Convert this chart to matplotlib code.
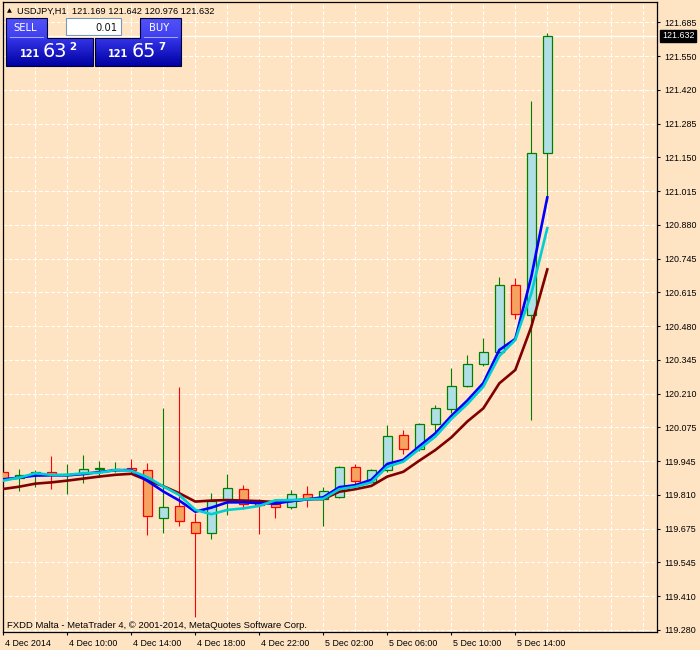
'''
USDJPY H1 candles with three moving averages, MT4 look
4 Dec 2014 06:00 .. 5 Dec 2014 16:00
'''

import numpy as np
import matplotlib
matplotlib.use('Agg')
import matplotlib.pyplot as plt
import matplotlib.transforms as mtransforms
from matplotlib.patches import Rectangle, Polygon
from matplotlib.colors import LinearSegmentedColormap
from matplotlib.ticker import MultipleLocator

# ---- data ----
opens = [119.904, 119.880, 119.892, 119.904, 119.895, 119.896, 119.916, 119.913, 119.920, 119.912,
         119.722, 119.771, 119.706, 119.663, 119.794, 119.837, 119.788, 119.779, 119.768, 119.817,
         119.798, 119.807, 119.924, 119.867, 119.913, 120.050, 119.995, 120.094, 120.153, 120.246,
         120.331, 120.379, 120.644, 120.527, 121.169]
highs = [119.942, 119.917, 119.913, 119.969, 119.937, 119.972, 119.949, 119.945, 119.957, 119.942,
         120.158, 120.243, 119.742, 119.821, 119.896, 119.853, 119.797, 119.794, 119.834, 119.850,
         119.847, 119.929, 119.937, 119.916, 120.091, 120.071, 120.100, 120.170, 120.317, 120.367,
         120.434, 120.677, 120.672, 121.375, 121.642]
lows = [119.881, 119.831, 119.847, 119.839, 119.817, 119.863, 119.887, 119.906, 119.900, 119.657,
        119.665, 119.693, 119.330, 119.639, 119.736, 119.758, 119.660, 119.724, 119.758, 119.768,
        119.691, 119.802, 119.856, 119.864, 119.906, 119.975, 119.988, 120.058, 120.137, 120.243,
        120.325, 120.375, 120.511, 120.111, 120.976]
closes = [119.883, 119.893, 119.904, 119.896, 119.897, 119.916, 119.920, 119.915, 119.912, 119.730,
          119.765, 119.710, 119.663, 119.792, 119.841, 119.779, 119.776, 119.768, 119.817, 119.797,
          119.830, 119.924, 119.868, 119.912, 120.046, 119.995, 120.094, 120.157, 120.246, 120.331,
          120.379, 120.644, 120.529, 121.167, 121.632]

ma_fast = [119.876, 119.883, 119.891, 119.892, 119.892, 119.897, 119.905, 119.912, 119.913, 119.870,
           119.828, 119.792, 119.748, 119.764, 119.785, 119.785, 119.782, 119.780, 119.790, 119.797,
           119.805, 119.845, 119.853, 119.874, 119.937, 119.953, 120.007, 120.058, 120.127, 120.188,
           120.257, 120.388, 120.432, 120.678, 120.992]
ma_mid = [119.871, 119.883, 119.900, 119.894, 119.894, 119.900, 119.902, 119.913, 119.910, 119.885,
          119.848, 119.814, 119.755, 119.738, 119.755, 119.761, 119.771, 119.793, 119.794, 119.797,
          119.799, 119.837, 119.847, 119.864, 119.926, 119.946, 119.996, 120.045, 120.115, 120.174,
          120.243, 120.364, 120.428, 120.612, 120.870]
ma_slow = [119.838, 119.847, 119.859, 119.864, 119.871, 119.879, 119.887, 119.894, 119.898, 119.872,
           119.849, 119.821, 119.788, 119.792, 119.794, 119.792, 119.790, 119.786, 119.790, 119.797,
           119.798, 119.827, 119.837, 119.850, 119.887, 119.906, 119.950, 119.992, 120.042, 120.105,
           120.157, 120.256, 120.309, 120.480, 120.707]

time_labels = ['4 Dec 2014', '4 Dec 10:00', '4 Dec 14:00', '4 Dec 18:00', '4 Dec 22:00',
               '5 Dec 02:00', '5 Dec 06:00', '5 Dec 10:00', '5 Dec 14:00']
price_labels = ['119.280', '119.410', '119.545', '119.675', '119.810', '119.945', '120.075',
                '120.210', '120.345', '120.480', '120.615', '120.745', '120.880', '121.015',
                '121.150', '121.285', '121.420', '121.550', '121.685']

symbol = 'USDJPY,H1'
bid = 121.632
ask = 121.657
lot = '0.01'
footer = 'FXDD Malta - MetaTrader 4, \u00a9 2001-2014, MetaQuotes Software Corp.'

# ---- style ----
BG = '#FFE4C4'
BULL_EDGE, BULL_FILL = '#008000', '#B0E0E6'
BEAR_EDGE, BEAR_FILL = '#FF0000', '#F4A460'
AX_FONT = ['Liberation Sans', 'DejaVu Sans']
plt.rcParams['font.family'] = AX_FONT

W, H = 700, 650
fig = plt.figure(figsize=(W / 100, H / 100), dpi=100)
fig.patch.set_facecolor(BG)

# chart frame in pixels: x 2.7..657.3, y 1.7..632
ax = fig.add_axes([2.7 / W, (H - 632) / H, (657.3 - 2.7) / W, (632 - 1.7) / H])
ax.set_facecolor(BG)

x = np.arange(len(opens))
body_w = 0.6
for i in x:
    o, h, l, c = opens[i], highs[i], lows[i], closes[i]
    bull = c >= o
    edge = BULL_EDGE if bull else BEAR_EDGE
    fill = BULL_FILL if bull else BEAR_FILL
    ax.vlines(i, l, h, color=edge, lw=0.8, zorder=2)
    ax.add_patch(Rectangle((i - body_w / 2, min(o, c)), body_w, abs(c - o),
                           facecolor=fill, edgecolor=edge, lw=0.9, zorder=3))

ax.plot(x, ma_slow, color='#800000', lw=1.9, zorder=4)
ax.plot(x, ma_fast, color='#0000FF', lw=1.9, zorder=5)
ax.plot(x, ma_mid, color='#00CED1', lw=1.9, zorder=6)

# current price line
ax.axhline(closes[-1], color='white', lw=0.9, zorder=1)
ax.annotate(f'{closes[-1]:.3f}', xy=(1, closes[-1]), xycoords=('axes fraction', 'data'),
            xytext=(3.4, 0), textcoords='offset points', ha='left', va='center',
            color='white', fontsize=6.4, annotation_clip=False,
            bbox=dict(boxstyle='square,pad=0.18', fc='black', ec='black'))

ax.set_xlim(-0.04, 40.875)
ax.set_ylim(119.2718, 121.7666)

# axes / ticks
ax.yaxis.tick_right()
ax.set_yticks(np.linspace(119.280, 121.685, len(price_labels)), price_labels)
ax.set_xticks(np.arange(len(time_labels)) * 4, time_labels)
ax.xaxis.set_minor_locator(MultipleLocator(2))
ax.tick_params(axis='both', which='major', length=2.5, width=0.8, labelsize=6.4,
               colors='black', pad=2.2)
ax.tick_params(axis='x', which='minor', length=0)
offset = mtransforms.ScaledTranslation(1.5 / 72, 0, fig.dpi_scale_trans)
for lbl in ax.get_xticklabels():
    lbl.set_horizontalalignment('left')
    lbl.set_transform(lbl.get_transform() + offset)

ax.set_axisbelow(True)
grid_style = dict(color='white', lw=0.8, linestyle=(0, (3, 2)), antialiased=False)
ax.xaxis.grid(True, which='both', **grid_style)
ax.yaxis.grid(True, which='major', **grid_style)
for sp in ax.spines.values():
    sp.set_color('black')
    sp.set_linewidth(0.9)

# ---- overlay in pixel coordinates for the MT4 widgets ----
ov = fig.add_axes([0, 0, 1, 1])
ov.set_zorder(10)
ov.patch.set_alpha(0)
ov.axis('off')

ov.text(9.6, 12.6, '\u25b2', fontsize=4.6, ha='center', va='baseline', family='DejaVu Sans')
ov.text(17.3, 14, f'{symbol}  {opens[-1]:.3f} {highs[-1]:.3f} {lows[-1]:.3f} {closes[-1]:.3f}',
        fontsize=6.7, va='baseline')
ov.text(7, 627.8, footer, fontsize=6.8, va='baseline')

grad = np.linspace(0, 1, 120).reshape(-1, 1)
btn_cmap = LinearSegmentedColormap.from_list(
    'btn', [(0, '#5252f6'), (0.4, '#4040f0'), (0.45, '#3232e6'), (1, '#0000a2')])


def draw_button(pts, label, label_x, sep_x, price, px):
    left = min(p[0] for p in pts)
    right = max(p[0] for p in pts)
    outline = Polygon(pts, closed=True, fc='none', ec='#000038', lw=0.8, zorder=3)
    im = ov.imshow(grad, extent=(left, right, 65.7, 18), cmap=btn_cmap, aspect='auto',
                   interpolation='bilinear', zorder=1)
    ov.add_patch(outline)
    im.set_clip_path(outline)
    ov.plot(sep_x, [36.6, 36.6], color='#a8a8ff', lw=0.7, zorder=4)
    ov.text(label_x, 31.3, label, color='white', fontsize=7.2, ha='center', va='baseline',
            family='DejaVu Sans', zorder=5)
    s = f'{price:.3f}'
    ov.text(px[0], 57.4, s[:3], color='white', fontsize=7, fontweight='bold',
            va='baseline', family='DejaVu Sans', zorder=5)
    ov.text(px[1], 57.4, s[4:6], color='white', fontsize=13.8, va='baseline',
            family='DejaVu Sans', zorder=5)
    ov.text(px[2], 50.2, s[6], color='white', fontsize=7.4, fontweight='bold',
            va='baseline', family='DejaVu Sans', zorder=5)


draw_button([(6, 18), (46.7, 18), (46.7, 37.7), (92.7, 37.7), (92.7, 65.7), (6, 65.7)],
            'SELL', 25.5, [9.5, 43], bid, (20.2, 42.6, 69.6))
draw_button([(140, 18), (180.7, 18), (180.7, 65.7), (95, 65.7), (95, 37.7), (140, 37.7)],
            'BUY', 159.5, [143.5, 177], ask, (107.8, 131.2, 158.6))

ov.add_patch(Rectangle((66, 18.3), 54.7, 16.7, fc='white', ec='#7a96b8', lw=0.8, zorder=3))
ov.text(117.5, 30.8, lot, fontsize=7.2, ha='right', va='baseline', color='#101010',
        family='DejaVu Sans', zorder=5)

ov.set_xlim(0, W)
ov.set_ylim(H, 0)

fig.savefig('out.png', dpi=100, facecolor=BG)
